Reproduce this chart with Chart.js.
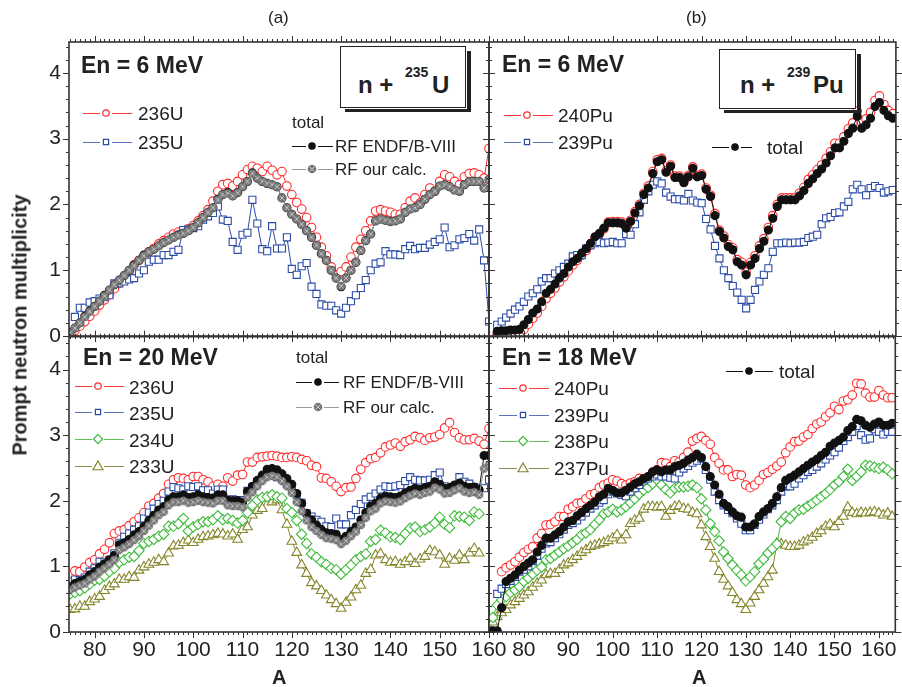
<!DOCTYPE html>
<html>
<head>
<meta charset="utf-8">
<script src="https://cdn.jsdelivr.net/npm/chart.js@4.4.1/dist/chart.umd.min.js"></script>
<style>
  body { margin: 0; width: 902px; height: 687px; overflow: hidden; position: relative; background: #fff;
         font-family: "Liberation Sans", Arial, sans-serif; color: #222; }
  canvas { position: absolute; }
  .t { position: absolute; white-space: nowrap; line-height: 1; transform: translateY(-50%); }
  .b { font-weight: bold; }
  .box { position: absolute; border: 1.5px solid #222; background: #fff; }
  .shadow { position: absolute; background: #222; }
</style>
</head>
<body>
<canvas id="cTL" width="500" height="320" style="left:0;top:30px"></canvas>
<canvas id="cTR" width="422" height="320" style="left:480px;top:30px"></canvas>
<canvas id="cBL" width="520" height="357" style="left:0;top:330px"></canvas>
<canvas id="cBR" width="422" height="357" style="left:480px;top:330px"></canvas>
<canvas id="leg" width="902" height="687" style="left:0;top:0"></canvas>

<!-- labels -->
<div class="t" style="left:268px;top:17px;font-size:17px">(a)</div>
<div class="t" style="left:686px;top:17px;font-size:17px">(b)</div>
<div class="b" style="position:absolute;left:20px;top:325px;transform:translate(-50%,-50%) rotate(-90deg);font-size:20px;white-space:nowrap">Prompt neutron multiplicity</div>
<div class="t b" style="left:272px;top:677px;font-size:20px">A</div>
<div class="t b" style="left:692px;top:677px;font-size:20px">A</div>

<!-- top left -->
<div class="t b" style="left:81px;top:65px;font-size:23px">En = 6 MeV</div>
<div class="shadow" style="left:467px;top:51px;width:4px;height:61px"></div>
<div class="shadow" style="left:345px;top:109px;width:126px;height:3px"></div>
<div class="box" style="left:340px;top:46px;width:124px;height:60px"></div>
<div class="t b" style="left:358px;top:85px;font-size:24px">n +</div>
<div class="t b" style="left:405px;top:72px;font-size:14px">235</div>
<div class="t b" style="left:432px;top:85px;font-size:24px">U</div>
<div class="t" style="left:138px;top:113px;font-size:19px">236U</div>
<div class="t" style="left:138px;top:142px;font-size:19px">235U</div>
<div class="t" style="left:292px;top:122px;font-size:17px">total</div>
<div class="t" style="left:335px;top:146px;font-size:17px">RF ENDF/B-VIII</div>
<div class="t" style="left:335px;top:169px;font-size:17px">RF our calc.</div>

<!-- top right -->
<div class="t b" style="left:502px;top:64px;font-size:23px">En = 6 MeV</div>
<div class="shadow" style="left:857px;top:54px;width:4px;height:59px"></div>
<div class="shadow" style="left:724px;top:110px;width:137px;height:3px"></div>
<div class="box" style="left:719px;top:49px;width:135px;height:58px"></div>
<div class="t b" style="left:740px;top:85px;font-size:24px">n +</div>
<div class="t b" style="left:787px;top:72px;font-size:14px">239</div>
<div class="t b" style="left:813px;top:85px;font-size:24px">Pu</div>
<div class="t" style="left:558px;top:115px;font-size:19px">240Pu</div>
<div class="t" style="left:558px;top:142px;font-size:19px">239Pu</div>
<div class="t" style="left:767px;top:147px;font-size:19px">total</div>

<!-- bottom left -->
<div class="t b" style="left:83px;top:357px;font-size:23px">En = 20 MeV</div>
<div class="t" style="left:129px;top:387px;font-size:19px">236U</div>
<div class="t" style="left:129px;top:413px;font-size:19px">235U</div>
<div class="t" style="left:129px;top:440px;font-size:19px">234U</div>
<div class="t" style="left:129px;top:466px;font-size:19px">233U</div>
<div class="t" style="left:296px;top:357px;font-size:17px">total</div>
<div class="t" style="left:343px;top:382px;font-size:17px">RF ENDF/B-VIII</div>
<div class="t" style="left:343px;top:407px;font-size:17px">RF our calc.</div>

<!-- bottom right -->
<div class="t b" style="left:502px;top:357px;font-size:23px">En = 18 MeV</div>
<div class="t" style="left:554px;top:388px;font-size:19px">240Pu</div>
<div class="t" style="left:554px;top:415px;font-size:19px">239Pu</div>
<div class="t" style="left:554px;top:441px;font-size:19px">238Pu</div>
<div class="t" style="left:554px;top:468px;font-size:19px">237Pu</div>
<div class="t" style="left:779px;top:371px;font-size:19px">total</div>

<script>
// ---------- data (mass number A -> multiplicity) ----------
const xTicks = [80, 90, 100, 110, 120, 130, 140, 150, 160];
const yTicks = [0, 1, 2, 3, 4];

// (a) top: n + 235U, En = 6 MeV
const tl236UStart = 75;
const tl236U = [0.03,0.08,0.15,0.22,0.30,0.38,0.47,0.55,0.63,0.72,
  0.80,0.90,0.98,1.08,1.15,1.22,1.28,1.33,1.40,1.45,
  1.50,1.55,1.58,1.60,1.63,1.68,1.75,1.83,1.92,2.05,
  2.20,2.30,2.32,2.28,2.35,2.45,2.53,2.58,2.55,2.50,
  2.58,2.52,2.45,2.50,2.28,2.15,2.03,1.93,1.80,1.65,
  1.50,1.35,1.22,1.05,0.93,0.98,1.05,1.20,1.35,1.47,
  1.60,1.75,1.90,1.92,1.90,1.88,1.85,1.85,1.95,2.05,
  2.10,2.02,2.15,2.25,2.20,2.35,2.45,2.42,2.35,2.30,
  2.42,2.47,2.48,2.45,2.40,2.85];
const tl235UStart = 76;
const tl235U = [0.29,0.43,0.43,0.51,0.53,0.57,0.59,0.62,0.80,
  0.80,0.83,0.86,0.88,0.95,1.00,1.13,1.16,1.16,1.23,
  1.23,1.28,1.31,1.61,1.62,1.64,1.67,1.77,1.82,1.87,
  1.97,1.77,1.75,1.43,1.31,1.54,1.57,2.07,1.71,1.32,
  1.29,1.67,1.33,1.33,1.50,1.02,0.93,1.06,1.11,0.75,
  0.64,0.48,0.46,0.46,0.39,0.34,0.43,0.53,0.62,0.73,
  0.85,1.00,1.10,1.12,1.29,1.24,1.24,1.23,1.32,1.37,
  1.32,1.34,1.34,1.39,1.43,1.47,1.65,1.35,1.38,1.47,
  1.49,1.55,1.45,1.62,1.15,0.22];
const tlTotalStart = 75;
const tlEndf = [0.05,0.12,0.20,0.30,0.38,0.45,0.53,0.62,0.70,0.78,
  0.85,0.92,1.00,1.08,1.15,1.23,1.28,1.32,1.37,1.42,
  1.46,1.50,1.54,1.56,1.60,1.65,1.72,1.80,1.88,1.95,
  2.08,2.15,2.18,2.13,2.18,2.27,2.35,2.48,2.40,2.35,
  2.32,2.30,2.27,2.10,1.95,1.85,1.78,1.70,1.60,1.50,
  1.38,1.25,1.15,1.00,0.88,0.75,0.88,1.00,1.12,1.30,
  1.45,1.55,1.75,1.78,1.76,1.74,1.75,1.78,1.88,1.93,
  1.95,2.00,2.08,2.15,2.20,2.28,2.30,2.27,2.22,2.20,
  2.30,2.35,2.35,2.35,2.25,2.38];
const tlCalc = [0.05,0.12,0.20,0.29,0.37,0.45,0.53,0.61,0.70,0.78,
  0.85,0.92,1.00,1.07,1.15,1.22,1.28,1.32,1.37,1.42,
  1.46,1.50,1.53,1.56,1.60,1.65,1.72,1.80,1.88,1.95,
  2.07,2.15,2.17,2.13,2.18,2.27,2.35,2.47,2.40,2.35,
  2.32,2.30,2.27,2.10,1.95,1.85,1.78,1.70,1.60,1.50,
  1.38,1.25,1.15,1.00,0.88,0.76,0.88,1.00,1.12,1.30,
  1.45,1.55,1.75,1.78,1.76,1.74,1.75,1.78,1.88,1.93,
  1.95,2.00,2.08,2.15,2.20,2.28,2.30,2.27,2.22,2.20,
  2.30,2.35,2.35,2.35,2.25,2.38];

// (b) top: n + 239Pu, En = 6 MeV
const trStart = 74;
const trTotal = [0.07,0.08,0.08,0.09,0.09,0.10,
  0.17,0.25,0.35,0.41,0.52,
  0.65,0.71,0.79,0.88,0.95,1.05,1.13,1.18,1.26,1.33,
  1.41,1.51,1.56,1.64,1.72,1.72,1.72,1.71,1.64,1.74,
  1.87,1.98,2.15,2.25,2.47,2.65,2.68,2.49,2.58,2.41,
  2.41,2.33,2.42,2.55,2.42,2.44,2.23,2.12,1.83,1.59,
  1.49,1.36,1.31,1.13,1.08,0.93,1.08,1.18,1.33,1.44,
  1.61,1.79,1.97,2.07,2.07,2.07,2.07,2.13,2.21,2.32,
  2.39,2.47,2.54,2.63,2.74,2.86,2.86,2.96,3.08,3.16,
  3.34,3.16,3.21,3.31,3.49,3.55,3.43,3.35,3.31];
const tr240Pu = [0.03,0.03,0.03,0.03,0.03,0.04,
  0.10,0.18,0.27,0.35,0.45,
  0.57,0.65,0.73,0.82,0.90,0.99,1.08,1.15,1.23,1.30,
  1.38,1.48,1.55,1.63,1.73,1.74,1.74,1.73,1.66,1.76,
  1.89,2.00,2.17,2.28,2.50,2.68,2.70,2.51,2.60,2.43,
  2.43,2.35,2.44,2.57,2.44,2.46,2.25,2.14,1.86,1.61,
  1.52,1.39,1.34,1.16,1.12,0.97,1.12,1.22,1.37,1.48,
  1.65,1.83,2.00,2.10,2.10,2.10,2.10,2.17,2.26,2.38,
  2.45,2.53,2.60,2.70,2.80,2.93,2.93,3.03,3.15,3.24,
  3.42,3.24,3.30,3.40,3.58,3.65,3.52,3.43,3.38];
const tr239Pu = [0.17,0.22,0.28,0.34,0.40,0.45,
  0.52,0.60,0.65,0.71,0.83,
  0.88,0.88,0.95,1.00,1.05,1.10,1.21,1.23,1.23,1.33,
  1.38,1.41,1.43,1.41,1.42,1.43,1.41,1.41,1.55,1.54,
  1.70,1.88,2.07,2.20,2.30,2.35,2.32,2.18,2.12,2.08,
  2.08,2.06,2.16,2.06,2.03,2.02,1.78,1.62,1.37,1.18,
  1.00,0.88,0.76,0.66,0.55,0.42,0.55,0.70,0.83,0.93,
  1.03,1.28,1.41,1.41,1.42,1.41,1.42,1.42,1.43,1.49,
  1.51,1.54,1.70,1.79,1.81,1.87,1.88,1.97,2.04,2.23,
  2.30,2.23,2.14,2.25,2.28,2.25,2.18,2.20,2.22];

// (a) bottom: n + 235U, En = 20 MeV
const bl236UStart = 76;
const bl236U = [0.93,0.92,0.99,1.06,1.10,1.19,1.26,1.36,1.50,
  1.54,1.56,1.62,1.68,1.74,1.82,1.92,1.96,2.04,2.11,
  2.25,2.32,2.35,2.34,2.32,2.37,2.37,2.32,2.29,2.22,
  2.25,2.22,2.35,2.30,2.39,2.40,2.59,2.59,2.66,2.67,
  2.68,2.69,2.68,2.66,2.66,2.67,2.66,2.63,2.61,2.54,
  2.52,2.35,2.34,2.29,2.22,2.14,2.20,2.21,2.34,2.48,
  2.58,2.64,2.66,2.73,2.82,2.85,2.88,2.83,2.90,2.93,
  2.98,2.96,2.92,2.96,2.97,3.01,3.11,3.19,3.04,2.96,
  2.93,2.93,2.95,2.91,2.86,3.10];
const blStart = 75;
const bl235U = [0.77,0.80,0.79,0.83,0.92,0.97,1.07,1.07,1.10,1.20,
  1.36,1.45,1.50,1.56,1.61,1.73,1.82,1.88,1.95,2.00,
  2.14,2.21,2.19,2.17,2.22,2.21,2.22,2.16,2.16,2.11,
  2.17,2.17,2.00,2.02,2.01,2.01,2.15,2.21,2.29,2.36,
  2.44,2.41,2.36,2.33,2.26,2.21,2.09,1.97,1.81,1.76,
  1.71,1.68,1.61,1.60,1.73,1.64,1.64,1.78,1.86,1.95,
  2.02,2.06,2.11,2.17,2.22,2.21,2.22,2.24,2.30,2.36,
  2.32,2.31,2.31,2.32,2.39,2.43,2.22,2.19,2.22,2.36,
  2.29,2.26,2.21,2.19,2.19,2.32];
const blEndf = [0.69,0.74,0.77,0.80,0.87,0.92,0.99,1.04,1.10,1.17,
  1.33,1.36,1.41,1.48,1.53,1.61,1.70,1.78,1.86,1.91,
  2.01,2.06,2.06,2.09,2.05,2.06,2.09,2.06,2.05,2.04,
  2.09,2.09,2.01,2.00,2.00,1.98,2.14,2.22,2.31,2.39,
  2.48,2.49,2.47,2.41,2.34,2.25,2.11,1.96,1.81,1.71,
  1.63,1.56,1.51,1.50,1.49,1.41,1.46,1.53,1.60,1.71,
  1.82,1.92,1.96,2.04,2.07,2.06,2.05,2.07,2.12,2.16,
  2.19,2.17,2.20,2.22,2.29,2.25,2.19,2.20,2.24,2.27,
  2.22,2.20,2.21,2.17,2.69,2.69];
const blCalc = [0.64,0.68,0.71,0.74,0.80,0.85,0.92,0.97,1.03,1.10,
  1.25,1.29,1.34,1.40,1.46,1.54,1.62,1.70,1.78,1.83,
  1.93,1.98,1.98,2.00,1.97,1.98,2.00,1.98,1.97,1.96,
  2.00,2.00,1.93,1.92,1.92,1.90,2.05,2.13,2.22,2.30,
  2.36,2.38,2.36,2.30,2.22,2.12,1.98,1.84,1.70,1.60,
  1.54,1.48,1.43,1.42,1.40,1.34,1.39,1.46,1.53,1.63,
  1.74,1.84,1.88,1.96,1.99,1.98,1.97,1.99,2.04,2.08,
  2.11,2.09,2.12,2.14,2.20,2.17,2.11,2.12,2.16,2.19,
  2.14,2.12,2.13,2.09,2.49,2.55];
const bl234U = [0.58,0.60,0.63,0.67,0.73,0.79,0.80,0.85,0.92,0.97,
  1.06,1.10,1.14,1.15,1.24,1.35,1.38,1.41,1.46,1.49,
  1.61,1.61,1.65,1.73,1.54,1.60,1.64,1.68,1.68,1.71,
  1.77,1.71,1.73,1.70,1.66,1.70,1.82,1.93,2.01,2.05,
  2.06,2.09,2.06,2.04,1.88,1.82,1.70,1.49,1.35,1.19,
  1.14,1.07,1.03,0.97,0.95,0.88,0.95,1.02,1.10,1.15,
  1.19,1.38,1.41,1.55,1.51,1.45,1.44,1.41,1.50,1.58,
  1.60,1.53,1.56,1.60,1.66,1.75,1.64,1.59,1.77,1.76,
  1.75,1.70,1.83,1.80];
const bl233U = [0.34,0.35,0.39,0.39,0.46,0.50,0.54,0.63,0.69,0.73,
  0.80,0.80,0.84,0.83,0.94,0.99,1.03,1.06,1.10,1.07,
  1.20,1.31,1.32,1.36,1.40,1.36,1.41,1.45,1.46,1.48,
  1.50,1.49,1.46,1.49,1.41,1.56,1.60,1.78,1.85,1.88,
  2.04,1.98,2.01,1.86,1.64,1.38,1.21,1.02,0.89,0.75,
  0.70,0.63,0.56,0.49,0.43,0.36,0.45,0.53,0.64,0.71,
  0.89,0.95,1.17,1.19,1.10,1.06,1.07,1.03,1.07,1.12,
  1.04,1.11,1.15,1.24,1.22,1.17,1.03,1.12,1.09,1.17,
  1.10,1.20,1.27,1.20];

// (b) bottom: n + 239Pu, En = 18 MeV
const br240PuStart = 75;
const br240Pu = [0.92,0.98,1.02,1.07,1.14,1.21,1.26,1.30,1.43,1.50,
  1.63,1.64,1.68,1.76,1.76,1.87,1.91,1.96,1.97,2.03,
  2.09,2.11,2.20,2.24,2.27,2.32,2.30,2.26,2.24,2.27,
  2.29,2.34,2.33,2.36,2.43,2.47,2.58,2.57,2.52,2.61,
  2.59,2.66,2.74,2.91,2.95,2.98,2.92,2.86,2.66,2.57,
  2.47,2.47,2.37,2.40,2.39,2.24,2.20,2.24,2.31,2.40,
  2.43,2.48,2.53,2.59,2.73,2.82,2.90,2.91,2.97,3.01,
  3.10,3.17,3.20,3.28,3.34,3.44,3.39,3.52,3.54,3.61,
  3.79,3.78,3.64,3.58,3.58,3.68,3.61,3.57,3.57];
const brTotalStart = 72;
const brTotal = [0.02,0.02,0.02,
  0.37,0.77,0.82,0.87,0.94,1.00,1.05,1.10,1.22,1.32,
  1.43,1.43,1.48,1.53,1.60,1.68,1.70,1.77,1.82,1.88,
  1.93,1.98,2.06,2.10,2.19,2.16,2.12,2.12,2.16,2.21,
  2.26,2.29,2.34,2.37,2.44,2.47,2.44,2.47,2.47,2.52,
  2.54,2.57,2.62,2.66,2.71,2.66,2.52,2.37,2.24,2.10,
  1.96,1.91,1.83,1.77,1.75,1.60,1.60,1.65,1.76,1.83,
  1.88,1.96,2.06,2.20,2.31,2.35,2.39,2.44,2.49,2.54,
  2.59,2.63,2.69,2.74,2.83,2.88,2.92,2.97,3.07,3.13,
  3.24,3.22,3.15,3.12,3.17,3.20,3.15,3.15,3.18];
const br239PuStart = 74;
const br239Pu = [0.58,
  0.66,0.73,0.78,0.84,0.92,0.95,1.00,1.08,1.16,1.27,
  1.35,1.37,1.43,1.49,1.56,1.63,1.66,1.70,1.76,1.82,
  1.88,1.93,1.97,2.01,2.10,2.14,2.11,2.09,2.07,2.14,
  2.19,2.24,2.31,2.34,2.37,2.40,2.37,2.37,2.35,2.34,
  2.43,2.49,2.53,2.58,2.61,2.64,2.47,2.32,2.14,2.01,
  1.93,1.86,1.81,1.73,1.65,1.55,1.55,1.63,1.71,1.79,
  1.87,1.93,2.01,2.14,2.22,2.22,2.26,2.34,2.39,2.44,
  2.47,2.52,2.57,2.63,2.69,2.74,2.81,2.91,2.97,3.05,
  3.14,3.00,2.93,2.95,3.09,3.05,3.01,3.05,3.05];
const br238PuStart = 73;
const br238Pu = [0.22,
  0.41,0.49,0.54,0.60,0.64,0.69,0.77,0.82,0.88,0.94,0.99,
  1.10,1.12,1.17,1.22,1.27,1.31,1.36,1.41,1.48,1.51,
  1.56,1.64,1.71,1.80,1.83,1.87,1.83,1.86,1.91,1.97,
  2.03,2.10,2.16,2.20,2.26,2.32,2.24,2.17,2.12,2.19,
  2.21,2.21,2.22,2.24,2.20,2.03,1.86,1.65,1.53,1.39,
  1.22,1.12,1.02,0.94,0.87,0.78,0.84,0.92,1.04,1.11,
  1.20,1.27,1.34,1.68,1.76,1.73,1.81,1.86,1.87,1.92,
  1.96,2.01,2.06,2.11,2.17,2.24,2.29,2.37,2.48,2.31,
  2.37,2.44,2.54,2.53,2.51,2.49,2.51,2.47,2.41];
const br237PuStart = 72;
const br237Pu = [0.08,0.15,
  0.23,0.29,0.34,0.41,0.46,0.51,0.56,0.61,0.68,0.74,0.79,
  0.87,0.89,0.89,0.95,1.02,1.05,1.10,1.15,1.21,1.25,
  1.30,1.32,1.34,1.36,1.39,1.43,1.48,1.40,1.48,1.65,
  1.70,1.73,1.87,1.91,1.91,1.90,1.91,1.76,1.85,1.91,
  1.92,1.88,1.87,1.82,1.80,1.63,1.45,1.30,1.12,0.92,
  0.80,0.70,0.60,0.49,0.43,0.34,0.44,0.54,0.64,0.74,
  0.84,0.94,1.35,1.34,1.32,1.30,1.30,1.32,1.37,1.40,
  1.44,1.50,1.54,1.61,1.64,1.60,1.68,1.76,1.90,1.82,
  1.80,1.82,1.81,1.82,1.83,1.81,1.78,1.81,1.76];

// ---------- styles ----------
Chart.defaults.font.family = "'Liberation Sans', Arial, sans-serif";

// grey "circle with x" marker used for "RF our calc."
const grayMark = document.createElement('canvas');
grayMark.width = 10; grayMark.height = 10;
(function () {
  const g = grayMark.getContext('2d');
  g.fillStyle = '#777';
  g.beginPath(); g.arc(5, 5, 4.3, 0, Math.PI * 2); g.fill();
  g.strokeStyle = '#c4c4c4'; g.lineWidth = 1;
  g.beginPath(); g.moveTo(2.5, 2.5); g.lineTo(7.5, 7.5); g.moveTo(7.5, 2.5); g.lineTo(2.5, 7.5); g.stroke();
})();

const look = {
  red:   { color: '#ff2a2a', style: 'circle',   r: 4.3, line: '#ff3a3a', lr: 3.2 },
  blue:  { color: '#2c4ca8', style: 'rect',     r: 5,   line: '#5a74bc', lr: 2.6 },
  green: { color: '#3fbb3a', style: 'rectRot',  r: 5.2, line: '#62c05a', lr: 4.6 },
  olive: { color: '#85852a', style: 'triangle', r: 5.6, line: '#8a8a50', lr: 5 },
  black: { color: '#111',    style: 'circle',   r: 4,   line: '#111',    lr: 3.2, fill: '#111' },
  gray:  { color: '#9a9a9a', style: grayMark,   r: 5,   line: '#9a9a9a', lr: 4, fill: '#9a9a9a' }
};

function series(start, vals, kind, order) {
  const k = look[kind];
  return {
    data: vals.map((v, i) => ({ x: start + i, y: v })),
    borderColor: k.color, borderWidth: 1,
    pointStyle: k.style, pointRadius: k.r,
    pointBorderColor: k.color, pointBackgroundColor: k.fill || '#fff',
    pointBorderWidth: 1.1, tension: 0, fill: false, order: order
  };
}

// frame with outward tick marks on all four sides
const frame = {
  id: 'frame',
  afterDraw(chart) {
    const { ctx, chartArea: a, scales: { x, y } } = chart;
    ctx.save();
    ctx.strokeStyle = '#333';
    ctx.lineWidth = 1.6;
    ctx.strokeRect(a.left, a.top, a.right - a.left, a.bottom - a.top);
    ctx.lineWidth = 1;
    ctx.beginPath();
    for (let v = Math.ceil(x.min); v <= x.max; v++) {
      const px = Math.round(x.getPixelForValue(v)) + 0.5;
      const len = v % 10 === 0 ? 6 : 3;
      ctx.moveTo(px, a.bottom); ctx.lineTo(px, a.bottom + len);
      ctx.moveTo(px, a.top); ctx.lineTo(px, a.top - len);
    }
    for (let k = 0; k / 5 <= y.max; k++) {
      const py = Math.round(y.getPixelForValue(k / 5)) + 0.5;
      const len = k % 5 === 0 ? 6 : 3;
      ctx.moveTo(a.left, py); ctx.lineTo(a.left - len, py);
      ctx.moveTo(a.right, py); ctx.lineTo(a.right + len, py);
    }
    ctx.stroke();
    ctx.restore();
  }
};

const tickFont = { size: 21 };

function xAxis(min, max, show) {
  const ax = {
    type: 'linear', min: min, max: max, display: show, position: 'bottom',
    grid: { display: false, drawTicks: false }, border: { display: false },
    ticks: { font: tickFont, color: '#222', padding: 6, maxRotation: 0, autoSkip: false },
    afterBuildTicks: s => { s.ticks = xTicks.map(v => ({ value: v })); }
  };
  if (show) ax.afterFit = s => { s.height = 55; s.paddingLeft = 0; s.paddingRight = 0; };
  return ax;
}
function yAxis(max, show) {
  const ax = {
    type: 'linear', min: 0, max: max, display: show, position: 'left',
    grid: { display: false, drawTicks: false }, border: { display: false },
    ticks: { font: tickFont, color: '#222', padding: 8 },
    afterBuildTicks: s => { s.ticks = yTicks.map(v => ({ value: v })); }
  };
  if (show) ax.afterFit = s => { s.width = 69; s.paddingTop = 0; s.paddingBottom = 0; };
  return ax;
}

function panel(id, datasets, pad, x, y) {
  return new Chart(document.getElementById(id), {
    type: 'line',
    data: { datasets: datasets },
    options: {
      responsive: false, animation: false, events: [],
      layout: { padding: pad },
      plugins: { legend: { display: false }, tooltip: { enabled: false } },
      scales: { x: x, y: y }
    },
    plugins: [frame]
  });
}

panel('cTL', [
  series(tlTotalStart, tlCalc, 'gray', 0),
  series(tlTotalStart, tlEndf, 'black', 1),
  series(tl235UStart, tl235U, 'blue', 2),
  series(tl236UStart, tl236U, 'red', 3)
], { top: 12, right: 11, bottom: 14, left: 0 }, xAxis(74.8, 160, false), yAxis(4.47, true));

panel('cTR', [
  series(trStart, trTotal, 'black', 0),
  series(trStart, tr239Pu, 'blue', 2),
  series(trStart, tr240Pu, 'red', 3)
], { top: 12, right: 0, bottom: 14, left: 9 }, xAxis(72.15, 163.7, false), yAxis(4.47, false));

panel('cBL', [
  series(blStart, blCalc, 'gray', 0),
  series(blStart, blEndf, 'black', 1),
  series(blStart, bl235U, 'blue', 2),
  series(bl236UStart, bl236U, 'red', 3),
  series(blStart, bl234U, 'green', 4),
  series(blStart, bl233U, 'olive', 5)
], { top: 6, right: 31, bottom: 0, left: 0 }, xAxis(74.8, 160, true), yAxis(4.5, true));

panel('cBR', [
  series(brTotalStart, brTotal, 'black', 0),
  series(br239PuStart, br239Pu, 'blue', 2),
  series(br240PuStart, br240Pu, 'red', 3),
  series(br238PuStart, br238Pu, 'green', 4),
  series(br237PuStart, br237Pu, 'olive', 5)
], { top: 6, right: 0, bottom: 0, left: 9 }, xAxis(72.15, 163.7, true), yAxis(4.5, false));

// ---------- legend samples (line - symbol - line) ----------
const lg = document.getElementById('leg').getContext('2d');
function sym(kind, x, y) {
  const k = look[kind];
  const r = k.lr;
  lg.save();
  lg.lineWidth = 1.2;
  lg.strokeStyle = k.color;
  lg.fillStyle = k.fill || '#fff';
  lg.beginPath();
  if (kind === 'gray') { lg.drawImage(grayMark, x - 5, y - 5); lg.restore(); return; }
  if (kind === 'red' || kind === 'black') lg.arc(x, y, r, 0, Math.PI * 2);
  else if (kind === 'blue') lg.rect(x - r, y - r, 2 * r, 2 * r);
  else if (kind === 'green') { lg.moveTo(x, y - r); lg.lineTo(x + r, y); lg.lineTo(x, y + r); lg.lineTo(x - r, y); lg.closePath(); }
  else if (kind === 'olive') { lg.moveTo(x, y - r); lg.lineTo(x + r, y + r * 0.75); lg.lineTo(x - r, y + r * 0.75); lg.closePath(); }
  lg.fill(); lg.stroke();
  lg.restore();
}
function sample(kind, x1, x2, xs, y) {
  lg.save();
  lg.strokeStyle = look[kind].line;
  lg.lineWidth = 1.2;
  lg.beginPath();
  lg.moveTo(x1, y + 0.5); lg.lineTo(xs - 6, y + 0.5);
  lg.moveTo(xs + 6, y + 0.5); lg.lineTo(x2, y + 0.5);
  lg.stroke();
  lg.restore();
  sym(kind, xs, y);
}
sample('red', 83, 132, 106, 113);
sample('blue', 83, 132, 106, 142);
sample('black', 292, 333, 312, 146);
sample('gray', 292, 333, 312, 169);

sample('red', 504, 553, 527, 115);
sample('blue', 504, 553, 527, 142);
sample('black', 712, 752, 735, 147);

sample('red', 75, 124, 98, 386);
sample('blue', 75, 124, 98, 412);
sample('green', 75, 124, 98, 439);
sample('olive', 75, 124, 98, 466);
sample('black', 296, 339, 318, 382);
sample('gray', 296, 339, 318, 407);

sample('red', 499, 549, 523, 388);
sample('blue', 499, 549, 523, 415);
sample('green', 499, 549, 523, 441);
sample('olive', 499, 549, 523, 468);
sample('black', 726, 773, 749, 371);
</script>
</body>
</html>
